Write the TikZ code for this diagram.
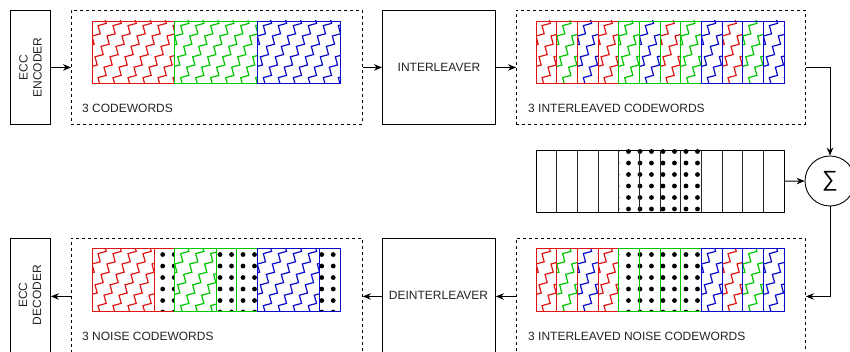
\documentclass[tikz,border=0pt]{standalone}
\usepackage{fontspec}
\setmainfont{Liberation Sans}
\usetikzlibrary{arrows.meta,calc}

\definecolor{cwred}{RGB}{225,20,20}
\definecolor{cwgreen}{RGB}{0,200,0}
\definecolor{cwblue}{RGB}{10,10,205}
\definecolor{txt}{RGB}{35,35,35}

\tikzset{
  blk/.style={draw=black, line width=0.9pt, inner sep=0pt, anchor=north west},
  grp/.style={draw=black, dash pattern=on 3pt off 3pt, line width=0.9pt, inner sep=0pt, anchor=north west},
  lbl/.style={font=\fontsize{12}{14}\selectfont, text=txt, inner sep=0pt},
  conn/.style={draw=black, line width=0.9pt, -{Stealth[length=8pt,width=6.5pt]}},
  zz/.style={line width=1.2pt, line join=miter},
  cell/.style={line width=0.9pt},
}

% zigzag-line hatching inside a rectangle: x0, y0, x1, y1, colour
\newcommand\zigfill[5]{%
  \begin{scope}
    \clip (#1,#2) rectangle (#3,#4);
    \foreach \s in {-75,-60,...,90} {
      \draw[zz,#5] (#1+\s,#4+5) \foreach \k in {1,...,8} { -- ++(8.2,-2.2) -- ++(-2.2,-8.2) };
    }
  \end{scope}}

% dot grid inside a rectangle: x0, y0, x1, y1, x offset, y offset
\newcommand\dotgrid[6]{%
  \begin{scope}
    \clip (#1,#2) rectangle (#3,#4);
    \foreach \i in {-1,...,8} {
      \foreach \j in {-1,...,6} {
        \fill[black] (#1+#5+11.5*\i, #2+#6+11.5*\j) circle (2.4);
      }
    }
  \end{scope}}

\begin{document}
\begin{tikzpicture}[x=1pt,y=-1pt]
\useasboundingbox (0,0) rectangle (850,352);

% ---------- top row ----------
\node[blk, minimum width=40, minimum height=114] (enc) at (10,10) {};
\node[lbl, rotate=90, align=center] at (enc.center) {ECC\\ENCODER};

\node[grp, minimum width=291, minimum height=114] (cw) at (71,10) {};
\node[lbl, anchor=base west] (cwlbl) at (82,113) {3 CODEWORDS};

\node[blk, minimum width=113, minimum height=114] (il) at (382,10) {};
\node[lbl] at (il.center) {INTERLEAVER};

\node[grp, minimum width=289, minimum height=114] (icw) at (516,10) {};
\node[lbl, anchor=base west] (icwlbl) at (528,113) {3 INTERLEAVED CODEWORDS};

% three plain codewords
\zigfill{92}{21}{174.67}{83}{cwred}
\zigfill{174.67}{21}{257.33}{83}{cwgreen}
\zigfill{257.33}{21}{340}{83}{cwblue}
\draw[cell,cwred] (92,21) rectangle (174.67,83);
\draw[cell,cwgreen] (174.67,21) rectangle (257.33,83);
\draw[cell,cwblue] (257.33,21) rectangle (340,83);

% interleaved codewords
\foreach \c [count=\n from 0] in {cwred,cwgreen,cwblue,cwred,cwgreen,cwblue,cwred,cwgreen,cwblue,cwred,cwgreen,cwblue} {
  \pgfmathsetmacro\xa{536+20.667*\n}
  \pgfmathsetmacro\xb{\xa+20.667}
  \zigfill{\xa}{21}{\xb}{83}{\c}
}
\foreach \c [count=\n from 0] in {cwred,cwred,cwred,cwred,cwgreen,cwgreen,cwgreen,cwgreen,cwblue,cwblue,cwblue,cwblue} {
  \pgfmathsetmacro\xa{536+20.667*\n}
  \draw[cell,\c] (\xa,21) rectangle ++(20.667,62);
}

% ---------- noise burst ----------
\node[inner sep=0pt, minimum width=248, minimum height=62, anchor=north west] (strip) at (536,150) {};
\dotgrid{618.67}{150}{701.33}{212}{-1.7}{1.5}
\foreach \n in {0,...,11} {
  \draw[cell,black!85] (536+20.667*\n,150) rectangle ++(20.667,62);
}
\draw[cell,black] (536,150) rectangle (784,212);

\node[draw=black, circle, line width=0.9pt, minimum size=50, inner sep=0pt,
      font=\fontsize{22}{22}\selectfont] (sum) at (830,181) {∑};

% ---------- bottom row ----------
\node[grp, minimum width=289, minimum height=116] (icn) at (516,238) {};
\node[lbl, anchor=base west] (icnlbl) at (528,340) {3 INTERLEAVED NOISE CODEWORDS};

\foreach \c [count=\n from 0] in {cwred,cwgreen,cwblue,cwred} {
  \pgfmathsetmacro\xa{536+20.667*\n}
  \pgfmathsetmacro\xb{\xa+20.667}
  \zigfill{\xa}{248.33}{\xb}{311}{\c}
}
\foreach \c [count=\n from 8] in {cwblue,cwred,cwgreen,cwblue} {
  \pgfmathsetmacro\xa{536+20.667*\n}
  \pgfmathsetmacro\xb{\xa+20.667}
  \zigfill{\xa}{248.33}{\xb}{311}{\c}
}
\dotgrid{618.67}{248.33}{701.33}{311}{-1.7}{6.2}
\foreach \c [count=\n from 0] in {cwred,cwred,cwred,cwred,cwgreen,cwgreen,cwgreen,cwgreen,cwblue,cwblue,cwblue,cwblue} {
  \pgfmathsetmacro\xa{536+20.667*\n}
  \draw[cell,\c] (\xa,248.33) rectangle ++(20.667,62.67);
}

\node[blk, minimum width=113, minimum height=116] (dil) at (382,238) {};
\node[lbl] at (438.5,295) {DEINTERLEAVER};

\node[grp, minimum width=291, minimum height=116] (ncw) at (71,238) {};
\node[lbl, anchor=base west] (ncwlbl) at (82,340) {3 NOISE CODEWORDS};

% codewords after deinterleaving
\zigfill{92}{248.33}{154}{311}{cwred}
\dotgrid{154}{248.33}{174.67}{311}{8.7}{6.2}
\zigfill{174.67}{248.33}{216}{311}{cwgreen}
\dotgrid{216}{248.33}{257.33}{311}{4}{6.2}
\zigfill{257.33}{248.33}{319.33}{311}{cwblue}
\dotgrid{319.33}{248.33}{340}{311}{2.4}{6.2}
\draw[cell,cwred] (92,248.33) rectangle (154,311) (154,248.33) rectangle (174.67,311);
\draw[cell,cwgreen] (174.67,248.33) rectangle (216,311) (216,248.33) rectangle (236.67,311) (236.67,248.33) rectangle (257.33,311);
\draw[cell,cwblue] (257.33,248.33) rectangle (319.33,311) (319.33,248.33) rectangle (340,311);

\node[blk, minimum width=40, minimum height=116] (dec) at (10,238) {};
\node[lbl, rotate=90, align=center] at (30,295) {ECC\\DECODER};

% ---------- connectors ----------
\draw[conn] (enc.east) -- (cw.west);
\draw[conn] (cw.east) -- (il.west);
\draw[conn] (il.east) -- (icw.west);
\draw[conn] (icw.east) -| (sum.north);
\draw[conn] (strip.east) -- (sum.west);
\draw[conn] (sum.south) |- (icn.east);
\draw[conn] (icn.west) -- (dil.east);
\draw[conn] (dil.west) -- (ncw.east);
\draw[conn] (ncw.west) -- (dec.east);
\end{tikzpicture}
\end{document}
